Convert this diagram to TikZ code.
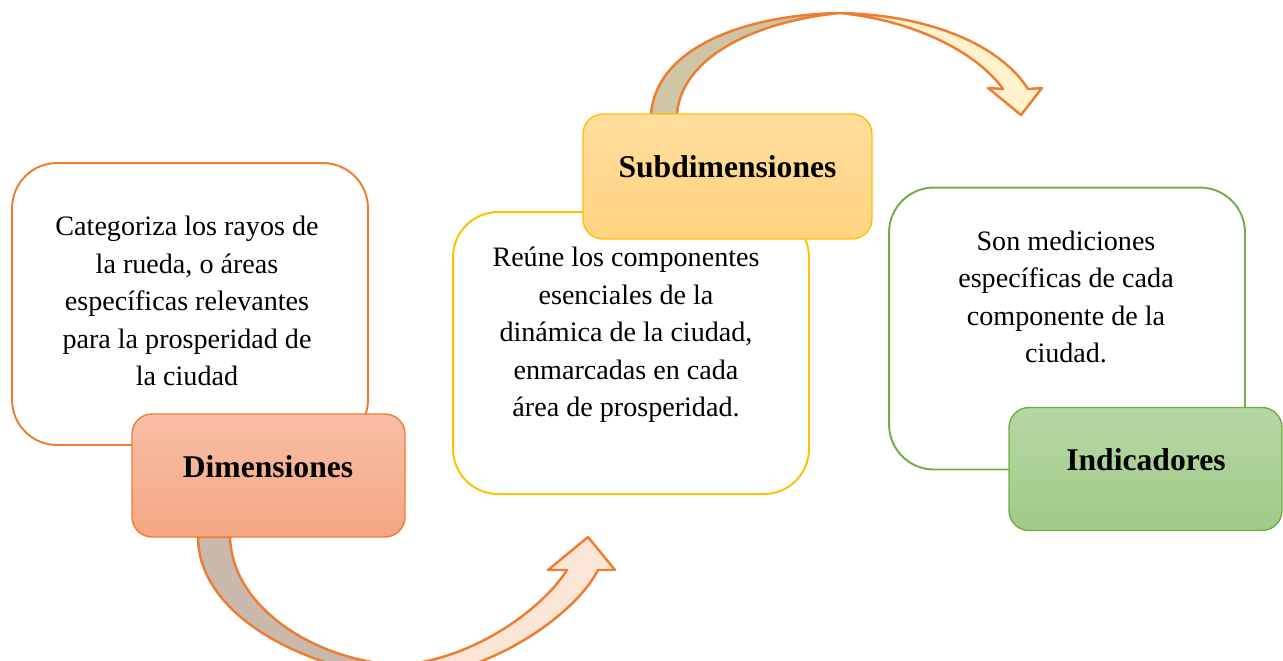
\documentclass[tikz,border=0pt]{standalone}
\usepackage{xcolor}
\usepackage{fontspec}
\setmainfont{Liberation Serif}
\definecolor{naranja}{HTML}{ED7D31}
\definecolor{amarillo}{HTML}{FFC000}
\definecolor{verde}{HTML}{70AD47}
\definecolor{tanA}{HTML}{C9B8AC}
\definecolor{pielA}{HTML}{FBE5D6}
\definecolor{tanB}{HTML}{CFC4A4}
\definecolor{pielB}{HTML}{FFF2CC}
\definecolor{dimArr}{HTML}{F7BFA6}
\definecolor{dimAba}{HTML}{F5A683}
\definecolor{subArr}{HTML}{FFDE9E}
\definecolor{subAba}{HTML}{FFD381}
\definecolor{indArr}{HTML}{B6D7A4}
\definecolor{indAba}{HTML}{A0CA87}
\tikzset{
  caja/.style={draw, line width=1.1pt, rounded corners=0.9cm, fill=white, minimum width=7.12cm, minimum height=5.64cm},
  titulo/.style={draw, line width=0.8pt, rounded corners=0.4cm, minimum height=2.46cm},
  rotulo/.style={inner sep=0pt, font=\fontsize{18}{22}\selectfont\bfseries},
  texto/.style={inner sep=0pt, align=center, font=\fontsize{16}{21.3}\selectfont},
  flecha/.style={draw=naranja, line width=1.4pt, line join=round}
}

\begin{document}
\begin{tikzpicture}[x=0.02cm,y=-0.02cm]
\useasboundingbox (0,0) rectangle (1283,660);
% flechas curvas
\filldraw[flecha, fill=tanA] (198,537) .. controls (198,600) and (270,660) .. (400,680) -- (400,665) .. controls (320,662) and (232,610) .. (230,537) -- cycle; % abajo, parte trasera
\filldraw[flecha, fill=pielA] (400,680) .. controls (490,675) and (575,615) .. (598,570) -- (615,570) -- (588,537) -- (548,570) -- (567,570) .. controls (540,612) and (470,660) .. (400,665) -- cycle; % abajo, punta
\filldraw[flecha, fill=tanB] (651,115) .. controls (655,50) and (740,15) .. (840,13) .. controls (750,22) and (680,60) .. (677,115) -- cycle; % arriba, parte trasera
\filldraw[flecha, fill=pielB] (840,13) .. controls (930,15) and (1000,45) .. (1028,89) -- (1042,88) -- (1021,115) -- (988,88) -- (1003,89) .. controls (975,50) and (910,20) .. (840,13) -- cycle; % arriba, punta
% cajas blancas
\node[caja, draw=naranja] (caja1) at (190,304) {};
\node[caja, draw=amarillo] (caja2) at (631,353) {};
\node[caja, draw=verde] (caja3) at (1067,328.5) {};
\node[texto] (txt1) at (187,301) {Categoriza los rayos de\\la rueda, o áreas\\específicas relevantes\\para la prosperidad de\\la ciudad};
\node[texto] (txt2) at (626,335) {Reúne los componentes\\esenciales de la\\dinámica de la ciudad,\\enmarcadas en cada\\área de prosperidad.};
\node[texto] (txt3) at (1066,297) {Son mediciones\\específicas de cada\\componente de la\\ciudad.};
% cajas de titulo
\node[titulo, draw=naranja, top color=dimArr, bottom color=dimAba, minimum width=5.46cm] (dim) at (268.5,475.5) {};
\node[titulo, draw=amarillo, top color=subArr, bottom color=subAba, minimum width=5.78cm, minimum height=2.5cm] (sub) at (727.5,176.5) {};
\node[titulo, draw=verde, top color=indArr, bottom color=indAba, minimum width=5.46cm] (ind) at (1145.5,469) {};
\node[rotulo] (tdim) at (268,467) {Dimensiones};
\node[rotulo] (tsub) at (727.5,167) {Subdimensiones};
\node[rotulo] (tind) at (1146,460) {Indicadores};
\end{tikzpicture}
\end{document}
